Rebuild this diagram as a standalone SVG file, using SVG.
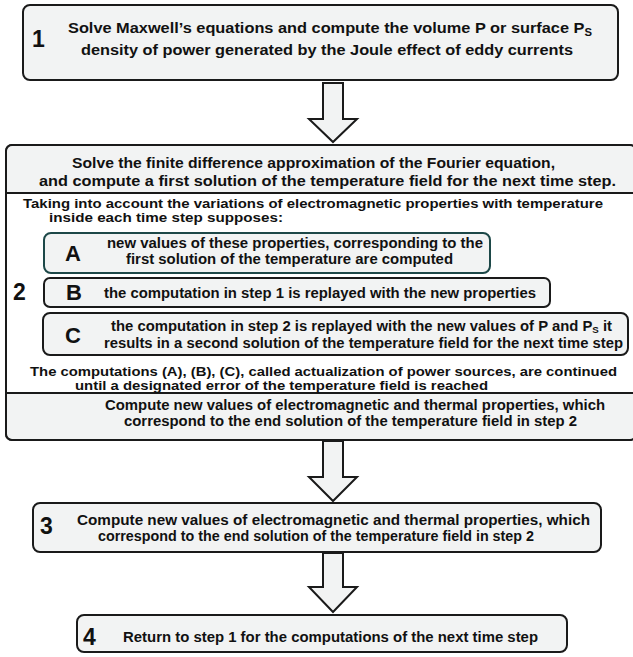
<svg xmlns="http://www.w3.org/2000/svg" width="633" height="657" viewBox="0 0 633 657">
<style>
.box{fill:#f2f3f3;stroke:#1a1a1a;stroke-width:2}
.boxA{fill:#f2f3f3;stroke:#1d4848;stroke-width:2}
.t{font-family:"Liberation Sans",Arial,sans-serif;font-weight:bold;font-size:14.5px;fill:#111}
.c{font-size:13.5px}
.n{font-family:"Liberation Sans",Arial,sans-serif;font-weight:bold;font-size:23px;fill:#111}
.L{font-family:"Liberation Sans",Arial,sans-serif;font-weight:bold;font-size:22px;fill:#111}
.sub{font-size:10px}
.arrow{fill:#f2f3f3;stroke:#1a1a1a;stroke-width:2;stroke-linejoin:miter}
.sep{stroke:#1a1a1a;stroke-width:2}
</style>
<rect x="0" y="0" width="633" height="657" fill="#ffffff"/>
<g id="connectors">
<polygon class="arrow" points="323,83 343,83 343,119 357,119 333,142 309,119 323,119"/>
<polygon class="arrow" points="323,441 343,441 343,477 357,477 333,501 309,477 323,477"/>
<polygon class="arrow" points="323,553 343,553 343,587 357,587 333,612 309,587 323,587"/>
</g>
<g id="step1">
<rect class="box" x="23" y="5" width="595" height="75" rx="7"/>
<text class="n" x="32" y="47">1</text>
<text class="t" x="68" y="33" textLength="524" lengthAdjust="spacingAndGlyphs">Solve Maxwell’s equations and compute the volume P or surface P<tspan class="sub" dy="3">S</tspan></text>
<text class="t" x="81" y="55" textLength="492" lengthAdjust="spacingAndGlyphs">density  of power generated by the Joule effect of eddy currents</text>
</g>
<g id="step2">
<rect x="6" y="145" width="630" height="295" rx="6" fill="#ffffff" stroke="#1a1a1a" stroke-width="2"/>
<path d="M7,193 V151 Q7,146 12,146 H634 V193 Z" fill="#f2f3f3"/>
<path d="M7,393 V434 Q7,439 12,439 H634 V393 Z" fill="#f2f3f3"/>
<rect x="6" y="145" width="630" height="295" rx="6" fill="none" stroke="#1a1a1a" stroke-width="2"/>
<line class="sep" x1="6" y1="193" x2="633" y2="193"/>
<line class="sep" x1="6" y1="393" x2="633" y2="393"/>
<text class="t" x="72" y="168" textLength="483" lengthAdjust="spacingAndGlyphs">Solve the finite difference approximation of the Fourier equation,</text>
<text class="t" x="39" y="186" textLength="577" lengthAdjust="spacingAndGlyphs">and compute a first solution of the temperature field for the next time step.</text>
<text class="t c" x="23" y="208" textLength="580" lengthAdjust="spacingAndGlyphs">Taking into account the variations of electromagnetic properties with temperature</text>
<text class="t c" x="49" y="222" textLength="234" lengthAdjust="spacingAndGlyphs">inside each time step supposes:</text>
<text class="n" x="13" y="300">2</text>
<text class="t c" x="30" y="376" textLength="587" lengthAdjust="spacingAndGlyphs">The computations (A), (B), (C), called actualization of power sources, are continued</text>
<text class="t c" x="75" y="390" textLength="413" lengthAdjust="spacingAndGlyphs">until a designated  error of the temperature field is reached</text>
<text class="t" x="105" y="410" textLength="500" lengthAdjust="spacingAndGlyphs">Compute new values of electromagnetic and thermal properties, which</text>
<text class="t" x="124" y="426" textLength="453" lengthAdjust="spacingAndGlyphs">correspond to the end solution of the temperature field in step 2</text>
</g>
<g id="stepA">
<rect class="boxA" x="44" y="233" width="446" height="40" rx="7"/>
<text class="L" x="65" y="261">A</text>
<text class="t" x="107" y="248" textLength="376" lengthAdjust="spacingAndGlyphs">new values of these properties, corresponding to the</text>
<text class="t" x="126" y="264" textLength="327" lengthAdjust="spacingAndGlyphs">first solution of the temperature are computed</text>
</g>
<g id="stepB">
<rect class="box" x="44" y="278" width="506" height="29" rx="6"/>
<text class="L" x="66" y="300">B</text>
<text class="t" x="104" y="298" textLength="432" lengthAdjust="spacingAndGlyphs">the computation in step 1 is replayed with the new properties</text>
</g>
<g id="stepC">
<rect class="box" x="43" y="313" width="585" height="42" rx="7"/>
<text class="L" x="65" y="343">C</text>
<text class="t" x="111" y="331" textLength="501" lengthAdjust="spacingAndGlyphs">the computation in step 2 is replayed with the new values of P and P<tspan style="font-size:9.5px" dy="2">S</tspan><tspan dy="-2"> it</tspan></text>
<text class="t" x="104" y="348" textLength="519" lengthAdjust="spacingAndGlyphs">results in a second solution of the temperature field for the next time step</text>
</g>
<g id="step3">
<rect class="box" x="33" y="503" width="568" height="49" rx="7"/>
<text class="n" x="40" y="534">3</text>
<text class="t" x="77" y="525" textLength="513" lengthAdjust="spacingAndGlyphs">Compute new values of electromagnetic and thermal properties, which</text>
<text class="t" x="98" y="541" textLength="436" lengthAdjust="spacingAndGlyphs">correspond to the  end solution of the temperature field in step 2</text>
</g>
<g id="step4">
<rect class="box" x="77" y="615" width="490" height="37" rx="7"/>
<text class="n" x="83" y="645">4</text>
<text class="t" x="123" y="642" textLength="415" lengthAdjust="spacingAndGlyphs">Return to step 1 for the computations of the next time step</text>
</g>
</svg>
